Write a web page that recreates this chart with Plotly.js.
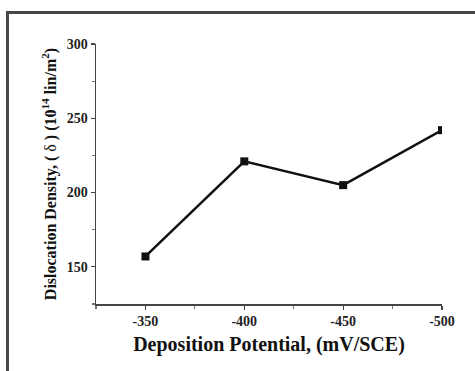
<!DOCTYPE html>
<html>
<head>
<meta charset="utf-8">
<script src="https://cdn.plot.ly/plotly-3.0.1.min.js"></script>
<style>
  html, body { margin: 0; padding: 0; background: #fff; }
  #wrap { position: relative; width: 475px; height: 371px; overflow: hidden; }
  #chart { position: absolute; left: 0; top: 0; width: 475px; height: 371px; }
  #frame { position: absolute; left: 6px; top: 11px; width: 480px; height: 370px;
           border-top: 3px solid #474747; border-left: 3px solid #474747; pointer-events: none; }
</style>
</head>
<body>
<div id="wrap">
  <div id="chart"></div>
  <div id="frame"></div>
</div>
<script>
const potentials = [-350, -400, -450, -500];
const dislocationDensity = [157, 221, 205, 242];
const xTickLabels = ['-350', '-400', '-450', '-500'];
const yTickValues = [150, 200, 250, 300];

const serif = 'Liberation Serif, Times New Roman, serif';

Plotly.newPlot('chart', [{
  x: potentials,
  y: dislocationDensity,
  type: 'scatter',
  mode: 'lines+markers',
  line: { color: '#111', width: 2.5 },
  marker: { symbol: 'square', size: 8, color: '#111' },
  showlegend: false
}], {
  width: 475,
  height: 371,
  margin: { l: 96, r: 33, t: 44, b: 67 },
  paper_bgcolor: '#fff',
  plot_bgcolor: '#fff',
  font: { family: serif, color: '#111' },
  xaxis: {
    range: [-325, -500],
    autorange: false,
    tickvals: potentials,
    ticktext: xTickLabels,
    ticks: 'outside',
    ticklen: 4,
    tickwidth: 1.2,
    tickcolor: '#444',
    showline: true,
    linecolor: '#444',
    linewidth: 1.5,
    showgrid: false,
    zeroline: false,
    minor: { dtick: 25, tick0: 0, ticks: 'outside', ticklen: 3, tickcolor: '#777', showgrid: false },
    tickfont: { family: serif, size: 14, color: '#222', weight: 'bold' },
    title: { text: '<b>Deposition Potential, (mV/SCE)</b>', font: { family: serif, size: 20, color: '#111' }, standoff: 8 }
  },
  yaxis: {
    range: [125, 300],
    autorange: false,
    tickvals: yTickValues,
    ticks: 'outside',
    ticklen: 4,
    tickwidth: 1.2,
    tickcolor: '#444',
    showline: true,
    linecolor: '#444',
    linewidth: 1.5,
    showgrid: false,
    zeroline: false,
    minor: { dtick: 25, tick0: 0, ticks: 'outside', ticklen: 3, tickcolor: '#777', showgrid: false },
    tickfont: { family: serif, size: 14, color: '#222', weight: 'bold' },
    title: { text: '<b>Dislocation Density, ( </b>δ<b> ) (10<sup>14</sup> lin/m<sup>2</sup>)</b>', font: { family: serif, size: 16, color: '#111' }, standoff: 6 }
  }
}, { displayModeBar: false, staticPlot: true });
</script>
</body>
</html>
